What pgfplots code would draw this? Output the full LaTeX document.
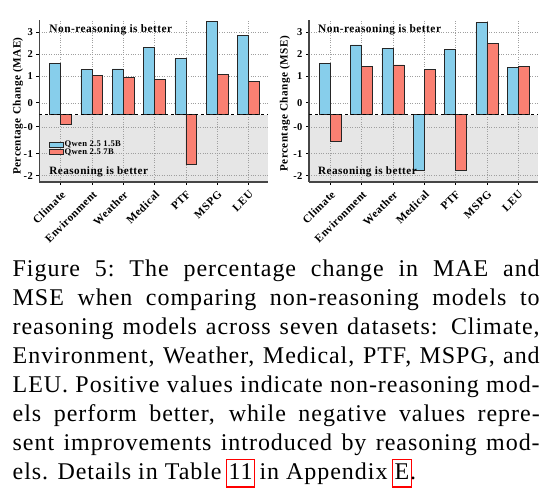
\documentclass[border=0pt]{standalone}
\usepackage{pgfplots}
\pgfplotsset{compat=1.18}
\usepackage{fontspec}
\setmainfont{Liberation Serif}

\definecolor{qblue}{RGB}{135,206,235}
\definecolor{qred}{RGB}{250,128,114}
\definecolor{bggray}{RGB}{230,230,230}
\definecolor{axgray}{RGB}{70,70,70}
\definecolor{linkred}{RGB}{255,0,0}

% values are bar heights in plot units (baseline = 0, one label step = 1)
\pgfplotstableread{
x  qsmall qlarge
0  2.32  -0.41
1  2.06   1.80
2  2.09   1.70
3  3.05   1.62
4  2.55  -2.27
5  4.23   1.82
6  3.60   1.50
}\maetable
\pgfplotstableread{
x  qsmall qlarge
0  2.33  -1.21
1  3.18   2.20
2  3.03   2.27
3 -2.52   2.07
4  2.98  -2.53
5  4.20   3.26
6  2.15   2.20
}\msetable

\newcommand\bfs[1]{\bfseries\fontsize{#1}{#1}\selectfont\addfontfeatures{LetterSpace=4}}
\newcommand\lbox[1]{\rlap{\hspace{-2.7pt}\textcolor{linkred}{\fboxrule=1.2pt\fboxsep=1.5pt\fbox{\rule[-5.6pt]{0pt}{23.6pt}\phantom{#1}}}}#1}

\pgfplotsset{
  deltabar/.style={
    scale only axis, width=229pt, height=161.5pt,
    ybar=0pt, bar width=0.35,
    xmin=-0.68, xmax=6.63, ymin=-3.05, ymax=4.29,
    axis lines=left, axis line style={-, axgray, line width=1.4pt},
    axis background/.style={path picture={\fill[bggray] (path picture bounding box.south west) rectangle ([yshift=67.1pt]path picture bounding box.south east);}},
    xtick={0,...,6},
    xticklabels={Climate,Environment,Weather,Medical,PTF,MSPG,LEU},
    ytick={-2.76,-1.76,-0.545,0.545,1.76,2.76,3.76},
    yticklabels={-2,-1,-0,0,1,2,3},
    tick style={black, line width=0.8pt},
    tick align=outside, major tick length=3pt,
    grid=major, grid style={dotted, gray!75, line width=0.6pt},
    yticklabel style={font=\bfs{10.5}},
    xticklabel style={rotate=45, anchor=north east, font=\bfs{11.2}},
    ylabel style={font=\bfs{11.2}},
    every axis plot/.append style={draw=black!85, line width=0.8pt},
    /pgf/number format/assume math mode=true,
  }
}

\begin{document}
\begin{tikzpicture}
\useasboundingbox (0pt,0pt) rectangle (546pt,-494pt);

\begin{axis}[deltabar,
  at={(39.3pt,-182pt)}, anchor=south west,
  ylabel={Percentage Change (MAE)},
  ylabel style={at={(axis description cs:-0.093,0.47)}, anchor=center},
  legend style={at={(0.028,0.272)}, anchor=north west, draw=none, fill=none,
    font=\bfs{8.6}, row sep=-1.5pt, nodes={inner sep=0.8pt}},
  legend cell align=left,
  every axis plot post/.append style={legend image code/.code={\draw[##1] (0pt,-2.4pt) rectangle (14pt,2.4pt);}},
]
\addplot[fill=qblue] table[x=x, y=qsmall] {\maetable};
\addplot[fill=qred] table[x=x, y=qlarge] {\maetable};
\legend{Qwen 2.5 1.5B, Qwen 2.5 7B}
\draw[black, dashed, line width=0.9pt] (axis cs:-0.68,0) -- (axis cs:6.63,0);
\node[anchor=base west, font=\bfs{11.4}] at (axis cs:-0.47,3.73) {Non-reasoning is better};
\node[anchor=base west, font=\bfs{11.2}] at (axis cs:-0.47,-2.73) {Reasoning is better};
\node[anchor=east, xshift=-6pt, font=\bfs{5.5}] at (rel axis cs:0,1) {(x10)};
\end{axis}

\begin{axis}[deltabar,
  at={(309pt,-182pt)}, anchor=south west,
  ylabel={Percentage Change (MSE)},
  ylabel style={at={(axis description cs:-0.105,0.485)}, anchor=center},
]
\addplot[fill=qblue] table[x=x, y=qsmall] {\msetable};
\addplot[fill=qred] table[x=x, y=qlarge] {\msetable};
\draw[black, dashed, line width=0.9pt] (axis cs:-0.68,0) -- (axis cs:6.63,0);
\node[anchor=base west, font=\bfs{11.4}] at (axis cs:-0.5,3.73) {Non-reasoning is better};
\node[anchor=base west, font=\bfs{11.2}] at (axis cs:-0.5,-2.73) {Reasoning is better};
\node[anchor=east, xshift=-6pt, font=\bfs{5.5}] at (rel axis cs:0,1) {(x10)};
\end{axis}

\node[anchor=base west, inner sep=0pt, font=\fontsize{24}{28.9}\selectfont\addfontfeatures{LetterSpace=4}]
  at (12.5pt,-277pt) {\parbox[t]{527pt}{%
\makebox[527pt][s]{Figure 5:\ The percentage change in MAE and}\\
\makebox[527pt][s]{MSE when comparing non-reasoning models to}\\
\makebox[527pt][s]{reasoning models across seven datasets: Climate,}\\
\makebox[527pt][s]{Environment, Weather, Medical, PTF, MSPG, and}\\
\makebox[527pt][s]{LEU. Positive values indicate non-reasoning mod-}\\
\makebox[527pt][s]{els perform better, while negative values repre-}\\
\makebox[527pt][s]{sent improvements introduced by reasoning mod-}\\
els. Details in Table \lbox{11} in Appendix \lbox{E}.}};
\end{tikzpicture}
\end{document}
